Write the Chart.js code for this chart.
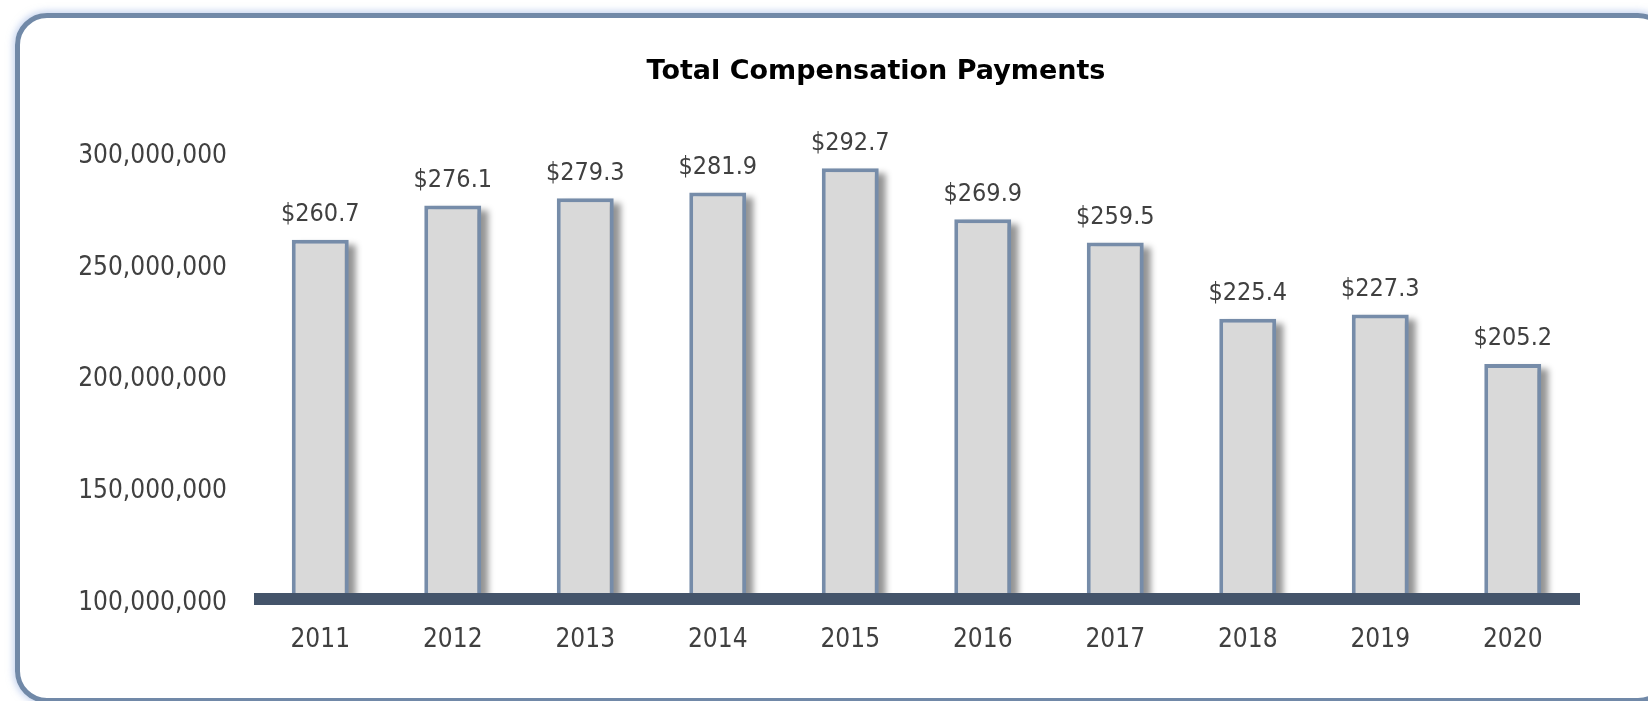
<!DOCTYPE html>
<html>
<head>
<meta charset="utf-8">
<script src="https://cdn.jsdelivr.net/npm/chart.js@4"></script>
<style>
  html, body { margin: 0; padding: 0; background: #fff; overflow: hidden; }
  #wrap { position: relative; width: 1648px; height: 701px; overflow: hidden; }
  .frame {
    position: absolute; left: 15px; top: 13px; width: 1655px; height: 690px;
    box-sizing: border-box; border: 5px solid #7189a8; border-radius: 32px;
    box-shadow: 0 0 7px 2px rgba(150, 175, 225, 0.55);
  }
  canvas { position: absolute; left: 0; top: 0; }
</style>
</head>
<body>
<div id="wrap">
  <div class="frame"></div>
  <canvas id="chart" width="1648" height="701"></canvas>
</div>
<script>
// total compensation payments per year (dollars)
const years = ['2011', '2012', '2013', '2014', '2015', '2016', '2017', '2018', '2019', '2020'];
const payments = [260700000, 276100000, 279300000, 281900000, 292700000, 269900000, 259500000, 225400000, 227300000, 205200000];
const yMin = 100000000;
const yMax = 300000000;
const yStep = 50000000;
const chartTitle = 'Total Compensation Payments';

const fontFamily = "'DejaVu Sans Condensed', 'DejaVu Sans', sans-serif";
const tickFont = { family: fontFamily, size: 26 };
const textColor = '#404040';

// title sits a bit right of the canvas centre, so it is drawn here
const titlePlugin = {
  id: 'titlePlugin',
  afterDraw(chart) {
    const ctx = chart.ctx;
    ctx.save();
    ctx.font = "bold 27px 'DejaVu Sans', sans-serif";
    ctx.fillStyle = '#000';
    ctx.textAlign = 'center';
    ctx.textBaseline = 'middle';
    ctx.fillText(chartTitle, 876, 72);
    ctx.restore();
  }
};

// soft grey shadow to the right of each bar
const barShadow = {
  id: 'barShadow',
  beforeDatasetsDraw(chart) {
    const ctx = chart.ctx;
    const area = chart.chartArea;
    ctx.save();
    ctx.beginPath();
    ctx.rect(area.left, area.top - 20, area.right - area.left + 20, area.bottom - area.top + 20);
    ctx.clip();
    ctx.filter = 'blur(3px)';
    ctx.fillStyle = 'rgba(0, 0, 0, 0.42)';
    chart.getDatasetMeta(0).data.forEach(bar => {
      const p = bar.getProps(['x', 'y', 'base', 'width'], true);
      const bottom = Math.min(p.base, area.bottom);
      ctx.fillRect(p.x - p.width / 2 + 7, p.y + 5, p.width, bottom - p.y - 5);
    });
    ctx.restore();
  }
};

// "$260.7" style labels above bars, then the heavy base line
const valueLabels = {
  id: 'valueLabels',
  afterDatasetsDraw(chart) {
    const ctx = chart.ctx;
    const area = chart.chartArea;
    ctx.save();
    ctx.font = `25px ${fontFamily}`;
    ctx.fillStyle = textColor;
    ctx.textAlign = 'center';
    ctx.textBaseline = 'middle';
    chart.getDatasetMeta(0).data.forEach((bar, i) => {
      ctx.fillText('$' + (payments[i] / 1e6).toFixed(1), bar.x, bar.y - 25);
    });
    ctx.fillStyle = '#44546a';
    ctx.fillRect(area.left, area.bottom - 6, area.right - area.left + 1, 12);
    ctx.restore();
  }
};

new Chart(document.getElementById('chart'), {
  type: 'bar',
  data: {
    labels: years,
    datasets: [{
      data: payments,
      backgroundColor: '#d9d9d9',
      borderColor: '#768ca9',
      borderWidth: 4,
      borderSkipped: false,
      barPercentage: 0.43,
      categoryPercentage: 1
    }]
  },
  options: {
    responsive: false,
    animation: false,
    layout: { padding: { left: 0, right: 69, top: 152, bottom: 0 } },
    plugins: {
      legend: { display: false },
      tooltip: { enabled: false },
      title: { display: false }
    },
    scales: {
      x: {
        grid: { display: false, drawTicks: false },
        border: { display: false },
        ticks: { color: textColor, font: tickFont, padding: 26 },
        afterFit: s => { s.height = 102; }
      },
      y: {
        min: yMin,
        max: yMax,
        grid: { display: false, drawTicks: false },
        border: { display: false },
        ticks: {
          stepSize: yStep,
          color: textColor,
          font: tickFont,
          padding: 27,
          labelOffset: 4,
          callback: v => v.toLocaleString('en-US')
        },
        afterFit: s => { s.width = 254; }
      }
    }
  },
  plugins: [barShadow, valueLabels, titlePlugin]
});
</script>
</body>
</html>
